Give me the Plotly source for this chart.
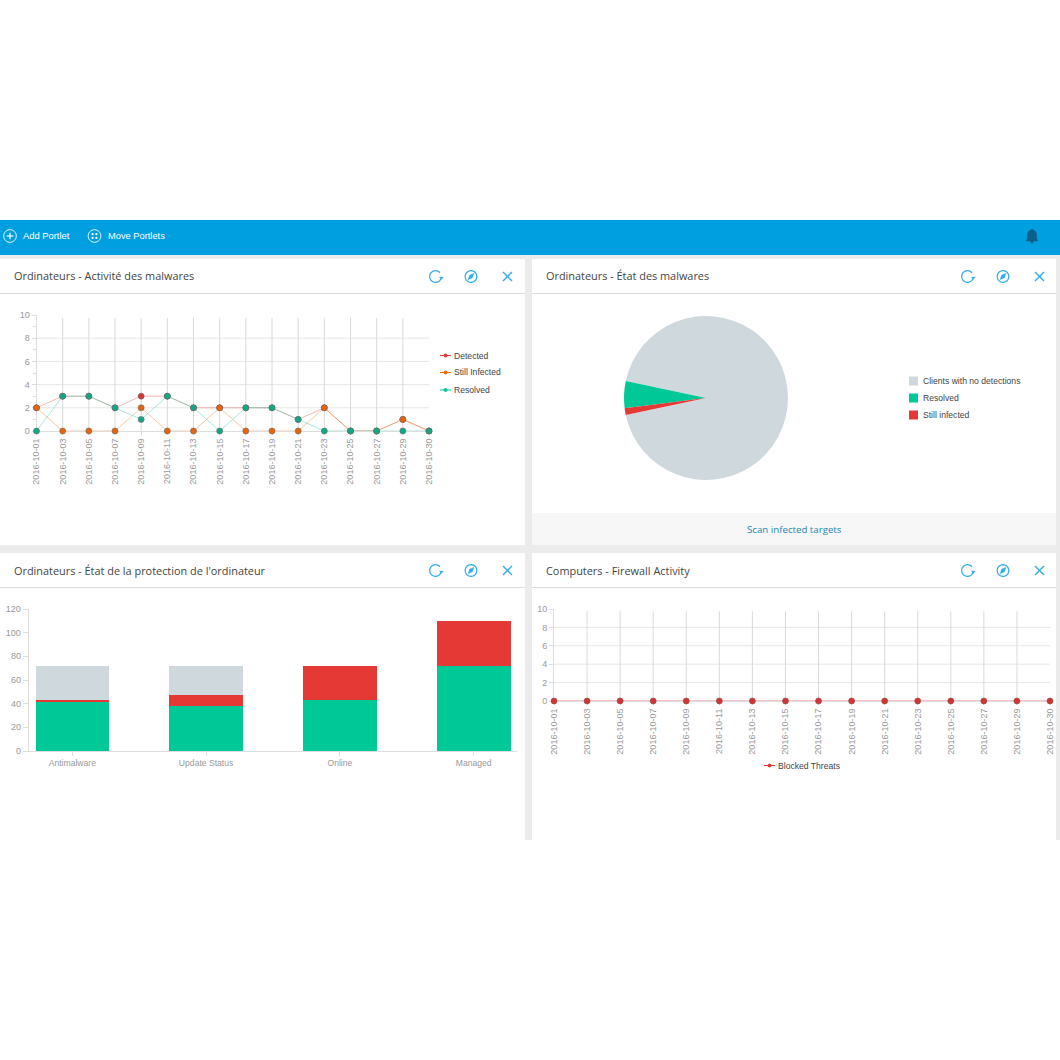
import numpy as np
import plotly.graph_objects as go

dates = ["2016-10-01","2016-10-03","2016-10-05","2016-10-07","2016-10-09","2016-10-11","2016-10-13","2016-10-15",
         "2016-10-17","2016-10-19","2016-10-21","2016-10-23","2016-10-25","2016-10-27","2016-10-29","2016-10-30"]
detected = [2,3,3,2,3,3,2,2,2,2,1,2,0,0,1,0]
still_infected = [2,0,0,0,2,0,0,2,0,0,0,2,0,0,1,0]
resolved = [0,3,3,2,1,3,2,0,2,2,1,0,0,0,0,0]
blocked = [0]*16

pie_labels = ["Clients with no detections","Resolved","Still infected"]
pie_values = [70,4,1]

bar_cats = ["Antimalware","Update Status","Online","Managed"]
bar_green = [42,38,43,72]
bar_red = [1,9,29,38]
bar_grey = [29,25,0,0]

RED="#e53935"; ORANGE="#ef6c00"; GREEN="#00c896"; GREY="#cfd8dc"
BLUE="#009fe0"; ICON="#35ade8"; TICK="#999999"; TXT="#444444"
FONT="Liberation Sans"; TITLE="Open Sans"
W=H=1060

def px(x): return x/W
def py(y): return 1-y/H
def rect(x0,y0,x1,y1,c):
    return dict(type="rect",xref="paper",yref="paper",x0=px(x0),x1=px(x1),y0=py(y0),y1=py(y1),
                fillcolor=c,line=dict(width=0),layer="below")
def line(x0,y0,x1,y1,c,w=1):
    return dict(type="line",xref="paper",yref="paper",x0=px(x0),x1=px(x1),y0=py(y0),y1=py(y1),
                line=dict(color=c,width=w),layer="above")
def poly(pts,c=None,lc=None,w=1,close=False):
    s="M"+" L".join(f"{px(a):.5f},{py(b):.5f}" for a,b in pts)+(" Z" if close else "")
    return dict(type="path",xref="paper",yref="paper",path=s,fillcolor=c or "rgba(0,0,0,0)",
                line=dict(color=lc or "rgba(0,0,0,0)",width=w),layer="above")
def arc(cx,cy,r,a0=0,a1=360,n=48):
    t=np.radians(np.linspace(a0,a1,n))
    return [(cx+r*np.cos(v),cy+r*np.sin(v)) for v in t]
def circle(cx,cy,r,c=None,lc=None,w=1):
    return poly(arc(cx,cy,r),c,lc,w,True)

shapes=[rect(0,255,1060,840,"#ebebeb"),rect(0,220,1060,255,BLUE)]
shapes+=[rect(0,259,525,545,"#ffffff"),rect(532,259,1056,545,"#ffffff"),
         rect(0,553,525,840,"#ffffff"),rect(532,553,1056,840,"#ffffff"),
         rect(532,513,1056,545,"#f7f7f7")]
shapes+=[line(0,293.5,525,293.5,"#dcdcdc"),line(532,293.5,1056,293.5,"#dcdcdc"),
         line(0,587.5,525,587.5,"#dcdcdc"),line(532,587.5,1056,587.5,"#dcdcdc")]

# nav icons
shapes+=[circle(10,236,6.3,None,"#ffffff",1),line(6.7,236,13.3,236,"#ffffff",1.2),line(10,232.7,10,239.3,"#ffffff",1.2)]
shapes+=[circle(94.5,236,6.3,None,"#ffffff",1)]
for dx in (-1.9,1.9):
    for dy in (-1.9,1.9):
        shapes.append(circle(94.5+dx,236+dy,1.1,"#ffffff"))
# bell
bell=[(1026,241),(1027.5,238.5),(1027.5,234.5)]+arc(1032,234.5,4.5,180,360,14)+[(1036.5,238.5),(1038,241)]
shapes+=[poly(bell,"#0b5f88","#0b5f88",0.5,True),circle(1032,242,1.5,"#0b5f88"),circle(1032,230,1,"#0b5f88")]

def head_icons(xo,yc):
    s=[poly(arc(xo+435.5,yc,5.8,10,320),None,ICON,1.3),
       poly([(xo+439.5,yc+0.5),(xo+443.5,yc+0.5),(xo+441,yc+3.2)],ICON,ICON,0.3,True),
       circle(xo+471,yc,5.8,None,ICON,1.3),
       poly([(xo+474,yc-3.2),(xo+472.4,yc+1.4),(xo+468,yc+3.2),(xo+469.6,yc-1.4)],ICON,ICON,0.3,True),
       line(xo+503,yc-4.5,xo+512,yc+4.5,ICON,1.4),line(xo+512,yc-4.5,xo+503,yc+4.5,ICON,1.4)]
    return s
shapes+=head_icons(0,276.5)+head_icons(532,276.5)+head_icons(0,570.5)+head_icons(532,570.5)

def text(x,y,t,size=8.6,color=TXT,family=FONT,anchor="left"):
    return dict(xref="paper",yref="paper",x=px(x),y=py(y),text=t,showarrow=False,xanchor=anchor,yanchor="middle",
                font=dict(size=size,color=color,family=family),borderpad=0,borderwidth=0)

ann=[text(23,236,"Add Portlet",9.4,"#ffffff"),text(108,236,"Move Portlets",9.3,"#ffffff"),
     text(14,276,"Ordinateurs - Activité des malwares",10.9,TXT,TITLE),
     text(546,276,"Ordinateurs - État des malwares",10.9,TXT,TITLE),
     text(14,570,"Ordinateurs - État de la protection de l'ordinateur",10.9,TXT,TITLE),
     text(546,570,"Computers - Firewall Activity",10.9,TXT,TITLE),
     text(794.5,529.5,"Scan infected targets",9.7,"#1f86b3",TITLE,"center")]

# hand-set legends (short keys)
for name,c,y in zip(["Detected","Still Infected","Resolved"],[RED,ORANGE,GREEN],[355.5,372.5,390]):
    shapes+=[line(440,y,451,y,c,1),circle(445.5,y,1.9,c)]
    ann.append(text(454,y,name))
for name,c,y in zip(pie_labels,[GREY,GREEN,RED],[381,398,415]):
    shapes.append(rect(909,y-4.5,918,y+4.5,c))
    ann.append(text(923,y,name))
shapes+=[line(764,765.5,775,765.5,RED,1),circle(769.5,765.5,1.9,RED)]
ann.append(text(778,765.5,"Blocked Threats"))

fig=go.Figure()

axfont=dict(size=9,color=TICK,family=FONT)
axfont2=dict(size=8.6,color=TICK,family=FONT)
def xdom(a,b): return [px(a),px(b)]
def ydom(top,bot): return [py(bot),py(top)]

def date_axes(n,x0,x1,top,bot,minor_y):
    xk=f"xaxis{n}" ; yk=f"yaxis{n}"
    xa=dict(domain=xdom(x0,x1),anchor=f"y{n}",type="category",categoryorder="array",categoryarray=dates,
            range=[0,len(dates)-1],tickangle=-90,tickfont=axfont,showgrid=False,layer="below traces",
            ticks="outside",ticklen=3,tickcolor="#dddddd",showline=True,linecolor="#dddddd",zeroline=False,
            tickmode="array",tickvals=dates,ticktext=dates)
    ya=dict(domain=ydom(top,bot),anchor=f"x{n}",range=[0,10],dtick=2,tick0=0,tickfont=axfont,showgrid=False,zeroline=False,
            ticks="outside",ticklen=4,tickcolor="#dddddd",showline=True,linecolor="#dddddd",layer="below traces")
    if minor_y:
        ya["minor"]=dict(tickvals=[1,3,5,7,9],ticks="outside",ticklen=3,tickcolor="#dddddd",showgrid=False)
    return {xk:xa,yk:ya}

def grid(n):
    hz=[dict(type="line",xref=f"x{n} domain",yref=f"y{n}",x0=0,x1=1,y0=v,y1=v,
             line=dict(color="#e6e6e6",width=1),layer="below") for v in (2,4,6,8)]
    vt=[dict(type="line",xref=f"x{n}",yref=f"y{n} domain",x0=d,x1=d,y0=0,y1=0.975,
             line=dict(color="#dadada",width=1),layer="below") for d in dates[1:-1]]
    return hz+vt

def rgba(h,a):
    return f"rgba({int(h[1:3],16)},{int(h[3:5],16)},{int(h[5:7],16)},{a})"

mk_line=dict(color="#666666",width=0.6)
for name,vals,c,mc in [("Detected",detected,RED,"#d93636"),("Still Infected",still_infected,ORANGE,"#e8640a"),("Resolved",resolved,GREEN,"#10a986")]:
    fig.add_trace(go.Scatter(x=dates,y=vals,name=name,mode="lines+markers",xaxis="x",yaxis="y",cliponaxis=False,showlegend=False,
        line=dict(color=rgba(c,0.36),width=1),marker=dict(color=mc,size=6,line=mk_line)))

fig.add_trace(go.Pie(labels=pie_labels,values=pie_values,sort=False,direction="counterclockwise",rotation=282,
    marker=dict(colors=[GREY,GREEN,RED],line=dict(width=0)),textinfo="none",showlegend=False,
    domain=dict(x=xdom(624,788),y=ydom(316,480))))

for name,vals,c in [("Resolved",bar_green,GREEN),("Still infected",bar_red,RED),("Clients with no detections",bar_grey,GREY)]:
    fig.add_trace(go.Bar(x=bar_cats,y=vals,name=name,xaxis="x2",yaxis="y2",marker=dict(color=c,line=dict(width=0)),width=0.55,showlegend=False))

fig.add_trace(go.Scatter(x=dates,y=blocked,name="Blocked Threats",mode="lines+markers",xaxis="x3",yaxis="y3",cliponaxis=False,showlegend=False,
    line=dict(color=rgba(RED,0.6),width=1),marker=dict(color="#d23434",size=6,line=dict(color="#8a4a4a",width=0.6))))

layout=dict(width=W,height=H,margin=dict(l=0,r=0,t=0,b=0,autoexpand=False),autosize=False,paper_bgcolor="#ffffff",plot_bgcolor="rgba(0,0,0,0)",
            barmode="stack",showlegend=False,font=dict(family=FONT),annotations=ann,
            shapes=shapes+grid("")+grid(3))
layout.update(date_axes("",36.5,429,315,431,True))
layout.update(date_axes(3,554,1050,609,701,False))
bx0,bx1=28.7,517; c0,step=72.3,133.8
layout["xaxis2"]=dict(domain=xdom(bx0,bx1),anchor="y2",type="category",categoryorder="array",categoryarray=bar_cats,
    range=[(bx0-c0)/step,(bx1-c0)/step],tickfont=axfont2,ticks="outside",ticklen=4,tickcolor="#dddddd",
    showline=True,linecolor="#dddddd",showgrid=False,zeroline=False)
layout["yaxis2"]=dict(domain=ydom(609,751),anchor="x2",range=[0,120],dtick=20,tickfont=axfont,ticks="outside",ticklen=5,
    tickcolor="#dddddd",showline=True,linecolor="#dddddd",showgrid=False,zeroline=False)
fig.update_layout(**layout)

fig.write_html("out.html",config=dict(displayModeBar=False,responsive=False),
    post_script="document.body.style.margin='0';document.documentElement.style.overflow='hidden';")
